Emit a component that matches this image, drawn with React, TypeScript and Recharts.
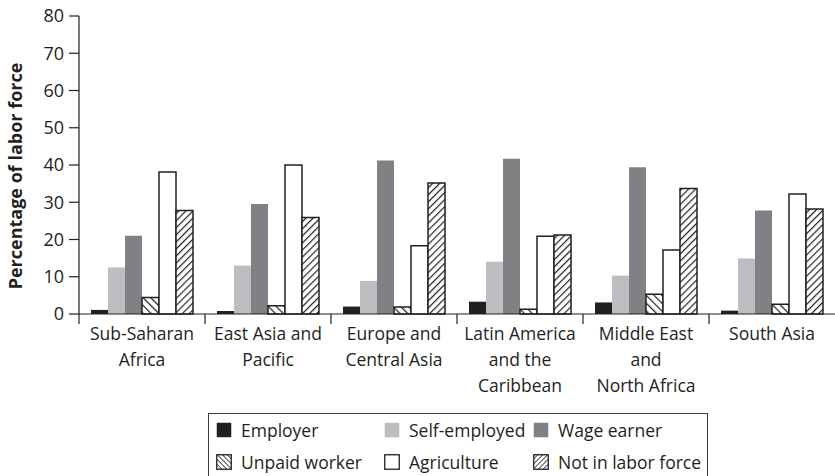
import React from 'react';
import { BarChart, Bar, XAxis, YAxis, Label } from 'recharts';

const regions = ['Sub-Saharan Africa', 'East Asia and Pacific', 'Europe and Central Asia', 'Latin America and the Caribbean', 'Middle East and North Africa', 'South Asia'];
const regionLines = [
  ['Sub-Saharan', 'Africa'],
  ['East Asia and', 'Pacific'],
  ['Europe and', 'Central Asia'],
  ['Latin America', 'and the', 'Caribbean'],
  ['Middle East', 'and', 'North Africa'],
  ['South Asia'],
];

const employer = [1.1, 0.8, 2.0, 3.3, 3.1, 0.9];
const selfEmployed = [12.5, 13.0, 8.9, 14.0, 10.3, 14.9];
const wageEarner = [21.0, 29.5, 41.2, 41.7, 39.4, 27.8];
const unpaidWorker = [4.4, 2.2, 1.9, 1.3, 5.3, 2.6];
const agriculture = [38.1, 40.0, 18.3, 20.9, 17.2, 32.2];
const notInLaborForce = [27.8, 25.9, 35.2, 21.2, 33.7, 28.2];

const yTicks = [0, 10, 20, 30, 40, 50, 60, 70, 80];

const data = regions.map((region, i) => ({
  region,
  employer: employer[i],
  selfEmployed: selfEmployed[i],
  wageEarner: wageEarner[i],
  unpaidWorker: unpaidWorker[i],
  agriculture: agriculture[i],
  notInLaborForce: notInLaborForce[i],
}));

const INK = '#231f20';
const FONT = '"Open Sans", sans-serif';

const series = [
  { key: 'employer', name: 'Employer', fill: INK, outlined: false },
  { key: 'selfEmployed', name: 'Self-employed', fill: '#bcbdc0', outlined: false },
  { key: 'wageEarner', name: 'Wage earner', fill: '#808184', outlined: false },
  { key: 'unpaidWorker', name: 'Unpaid worker', fill: 'url(#hatchBack)', legendFill: 'url(#hatchBackSmall)', outlined: true },
  { key: 'agriculture', name: 'Agriculture', fill: '#ffffff', outlined: true },
  { key: 'notInLaborForce', name: 'Not in labor force', fill: 'url(#hatchFwd)', legendFill: 'url(#hatchFwdSmall)', outlined: true },
];

// category ticks sit on the band edges, labels stay centred
const RegionTick = (props: any) => {
  const { x, y, payload, index } = props;
  const lines = regionLines[index] || [payload.value];
  const half = payload.offset ?? 63;
  const edge = payload.coordinate - half;
  return (
    <g>
      <line x1={edge} y1={y - 10} x2={edge} y2={y} stroke={INK} strokeWidth={1.2} />
      {lines.map((t: string, i: number) => (
        <text key={i} x={x} y={y + 16 + i * 26} textAnchor="middle" fontSize={17.5} fill={INK} fontFamily={FONT}>
          {t}
        </text>
      ))}
    </g>
  );
};

export default function App() {
  return (
    <div style={{ position: 'absolute', left: 0, top: 0, width: 835, height: 476, overflow: 'hidden', background: '#fff', fontFamily: FONT }}>
      <BarChart width={835} height={476} data={data} margin={{ top: 16, right: 0, left: 0, bottom: 0 }} barGap={0} barSize={17}>
        <defs>
          <pattern id="hatchFwd" width={5} height={5} patternUnits="userSpaceOnUse" patternTransform="rotate(45)">
            <rect width={5} height={5} fill="#fff" />
            <line x1={0} y1={0} x2={0} y2={5} stroke={INK} strokeWidth={2.4} />
          </pattern>
          <pattern id="hatchBack" width={5.5} height={5.5} patternUnits="userSpaceOnUse" patternTransform="rotate(-45)">
            <rect width={5.5} height={5.5} fill="#fff" />
            <line x1={0} y1={0} x2={0} y2={5.5} stroke={INK} strokeWidth={2.4} />
          </pattern>
          <pattern id="hatchFwdSmall" width={3.5} height={3.5} patternUnits="userSpaceOnUse" patternTransform="rotate(45)">
            <rect width={3.5} height={3.5} fill="#fff" />
            <line x1={0} y1={0} x2={0} y2={3.5} stroke={INK} strokeWidth={1.6} />
          </pattern>
          <pattern id="hatchBackSmall" width={3.5} height={3.5} patternUnits="userSpaceOnUse" patternTransform="rotate(-45)">
            <rect width={3.5} height={3.5} fill="#fff" />
            <line x1={0} y1={0} x2={0} y2={3.5} stroke={INK} strokeWidth={1.6} />
          </pattern>
        </defs>
        <XAxis
          dataKey="region"
          height={162}
          interval={0}
          axisLine={{ stroke: INK, strokeWidth: 1.2 }}
          tickLine={false}
          tickSize={10}
          tickMargin={0}
          tick={<RegionTick />}
        />
        <YAxis
          width={79}
          domain={[0, 80]}
          ticks={yTicks}
          interval={0}
          axisLine={{ stroke: INK, strokeWidth: 1.2 }}
          tickLine={{ stroke: INK, strokeWidth: 1.2 }}
          tickSize={10}
          tickMargin={5}
          tick={{ fontSize: 18, fill: INK, fontFamily: FONT }}
        >
          <Label
            content={() => (
              <text x={22} y={176} transform="rotate(-90 22 176)" textAnchor="middle" fontSize={18} fontWeight="bold" fill={INK} fontFamily={FONT}>
                Percentage of labor force
              </text>
            )}
          />
        </YAxis>
        {series.map((s) => (
          <Bar
            key={s.key}
            dataKey={s.key}
            name={s.name}
            fill={s.fill}
            stroke={s.outlined ? INK : 'none'}
            strokeWidth={s.outlined ? 1.5 : 0}
            isAnimationActive={false}
          />
        ))}
      </BarChart>
      <div
        style={{
          position: 'absolute',
          left: 208,
          top: 413,
          width: 500,
          height: 80,
          border: '1px solid #3a3a3a',
          boxSizing: 'border-box',
          display: 'grid',
          gridTemplateColumns: '168px 149px auto',
          gridAutoRows: '32px',
          paddingLeft: 7,
          fontSize: 17.5,
          color: INK,
        }}
      >
        {series.map((s) => (
          <div key={s.key} style={{ display: 'flex', alignItems: 'center', whiteSpace: 'nowrap' }}>
            <svg width={16} height={16} style={{ marginRight: 9, flex: 'none' }}>
              <rect
                x={0.75}
                y={0.75}
                width={14.5}
                height={14.5}
                fill={s.legendFill || s.fill}
                stroke={s.outlined ? INK : 'none'}
                strokeWidth={s.outlined ? 1.3 : 0}
              />
            </svg>
            <span>{s.name}</span>
          </div>
        ))}
      </div>
    </div>
  );
}
